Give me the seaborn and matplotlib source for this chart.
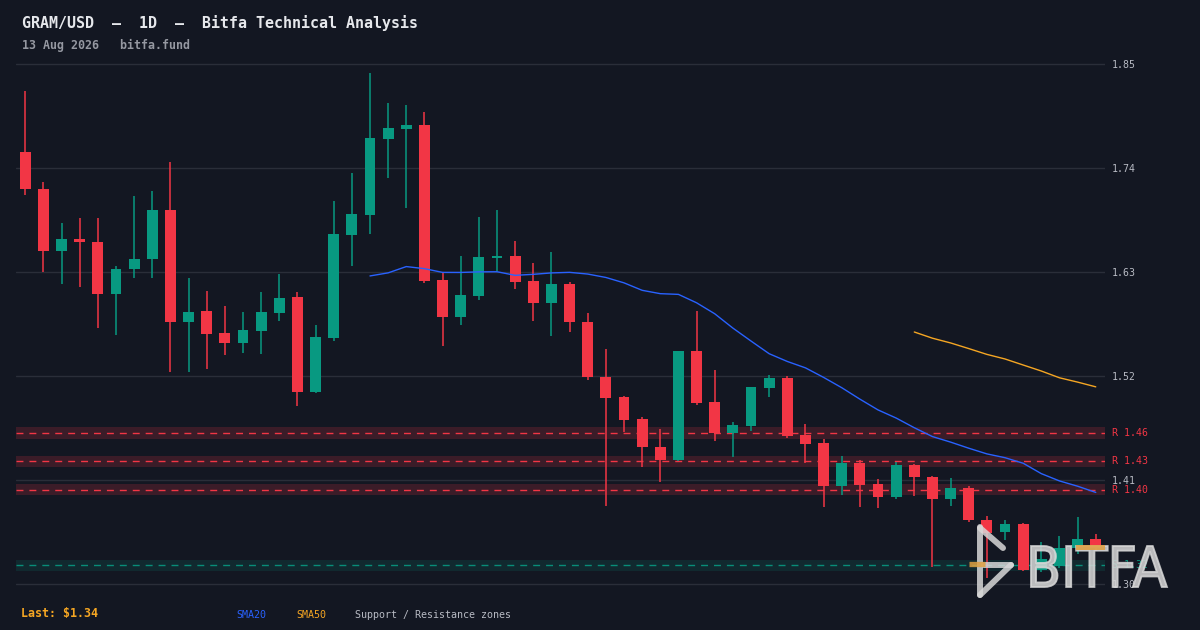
import numpy as np
import pandas as pd
import matplotlib
matplotlib.use("Agg")
import matplotlib.pyplot as plt
import seaborn as sns
from matplotlib.textpath import TextPath
from matplotlib.patches import PathPatch, Rectangle
from matplotlib.font_manager import FontProperties
from matplotlib.transforms import Affine2D
from matplotlib.lines import Line2D

# ---------------- data ----------------
opens = [1.757, 1.718, 1.653, 1.665, 1.662, 1.607, 1.633, 1.644, 1.696, 1.577,
         1.589, 1.566, 1.555, 1.568, 1.587, 1.604, 1.503, 1.561, 1.669, 1.691,
         1.771, 1.782, 1.786, 1.622, 1.583, 1.605, 1.645, 1.647, 1.621, 1.598,
         1.618, 1.577, 1.519, 1.498, 1.475, 1.445, 1.432, 1.547, 1.493, 1.460,
         1.467, 1.508, 1.518, 1.458, 1.449, 1.404, 1.428, 1.406, 1.392, 1.426,
         1.414, 1.390, 1.402, 1.368, 1.355, 1.364, 1.315, 1.319, 1.338, 1.348]
highs = [1.822, 1.725, 1.682, 1.687, 1.687, 1.637, 1.711, 1.716, 1.747, 1.624,
         1.610, 1.594, 1.588, 1.609, 1.628, 1.609, 1.574, 1.705, 1.735, 1.841,
         1.809, 1.807, 1.800, 1.630, 1.647, 1.689, 1.696, 1.663, 1.640, 1.652,
         1.620, 1.587, 1.549, 1.499, 1.477, 1.464, 1.547, 1.589, 1.527, 1.472,
         1.509, 1.521, 1.520, 1.470, 1.454, 1.436, 1.431, 1.411, 1.429, 1.427,
         1.415, 1.412, 1.404, 1.372, 1.368, 1.365, 1.345, 1.351, 1.371, 1.353]
lows = [1.712, 1.630, 1.618, 1.614, 1.571, 1.564, 1.624, 1.624, 1.525, 1.525,
        1.528, 1.543, 1.545, 1.544, 1.578, 1.489, 1.502, 1.557, 1.637, 1.671,
        1.730, 1.698, 1.619, 1.552, 1.574, 1.601, 1.631, 1.612, 1.578, 1.563,
        1.567, 1.516, 1.383, 1.461, 1.424, 1.408, 1.430, 1.490, 1.452, 1.435,
        1.462, 1.498, 1.455, 1.428, 1.382, 1.394, 1.382, 1.381, 1.390, 1.393,
        1.318, 1.383, 1.366, 1.307, 1.347, 1.314, 1.313, 1.317, 1.332, 1.335]
closes = [1.718, 1.653, 1.665, 1.662, 1.607, 1.634, 1.644, 1.696, 1.577, 1.588,
          1.565, 1.555, 1.569, 1.588, 1.603, 1.503, 1.562, 1.670, 1.692, 1.772,
          1.783, 1.786, 1.621, 1.583, 1.606, 1.646, 1.647, 1.620, 1.598, 1.618,
          1.577, 1.519, 1.497, 1.474, 1.445, 1.432, 1.547, 1.492, 1.460, 1.469,
          1.509, 1.518, 1.457, 1.448, 1.404, 1.428, 1.405, 1.392, 1.426, 1.413,
          1.390, 1.402, 1.368, 1.354, 1.364, 1.315, 1.327, 1.338, 1.348, 1.338]

resistance_levels = [1.46, 1.43, 1.40]
support_levels = [1.32]
zone_half_width = 0.006
y_ticks = [1.30, 1.41, 1.52, 1.63, 1.74, 1.85]

title_text = "GRAM/USD  \u2014  1D  \u2014  Bitfa Technical Analysis"
subtitle_text = "13 Aug 2026   bitfa.fund"
last_text = "Last: $1.34"

# ---------------- style ----------------
BG = "#131722"
GRID = "#2a2e39"
UP = "#089981"
DOWN = "#f23645"
C_SMA20 = "#2962ff"
C_SMA50 = "#f5a623"
TXT = "#b8bbc4"

sns.set_theme(style="dark", rc={"axes.facecolor": BG, "figure.facecolor": BG,
                                "savefig.facecolor": BG})
plt.rcParams["font.family"] = ["DejaVu Sans Mono", "DejaVu Sans"]

df = pd.DataFrame({"idx": np.arange(len(closes)), "open": opens, "high": highs,
                   "low": lows, "close": closes})
df["sma20"] = df["close"].rolling(20).mean()
df["sma50"] = df["close"].rolling(50).mean()

W, H = 1200, 630
fig = plt.figure(figsize=(12, 6.3), dpi=100)
ax = fig.add_axes([16 / W, 38 / H, 1089 / W, 536 / H])
ax.set_facecolor(BG)

# zones
for lvl in resistance_levels:
    ax.axhspan(lvl - zone_half_width, lvl + zone_half_width, color=DOWN, alpha=0.18, lw=0, zorder=0.5)
    ax.axhline(lvl, color=DOWN, lw=1.0, ls=(0, (5, 4.3)), alpha=1.0, zorder=1.5)
for lvl in support_levels:
    ax.axhspan(lvl - zone_half_width, lvl + zone_half_width, color=UP, alpha=0.14, lw=0, zorder=0.5)
    ax.axhline(lvl, color=UP, lw=1.0, ls=(0, (5, 4.3)), alpha=0.9, zorder=1.5)

# candles
up = df["close"] >= df["open"]
cols = np.where(up, UP, DOWN)
ax.vlines(df["idx"], df["low"], df["high"], colors=cols, lw=1.1, zorder=2)
body_lo = np.minimum(df["open"], df["close"])
body_h = np.maximum(np.abs(df["close"] - df["open"]), 0.0015)
ax.bar(df["idx"], body_h, bottom=body_lo, width=0.6, color=cols, lw=0, zorder=3)

# moving averages
sns.lineplot(data=df, x="idx", y="sma20", color=C_SMA20, lw=1.0, ax=ax, zorder=4, legend=False)
sns.lineplot(data=df, x="idx", y="sma50", color=C_SMA50, lw=1.0, ax=ax, zorder=4, legend=False)

# axes
ax.set_xlim(-0.51, 59.51)
ax.set_ylim(1.29186, 1.85878)
ax.set_yticks(y_ticks)
ax.set_yticklabels([f"{t:.2f}" for t in y_ticks])
ax.yaxis.tick_right()
ax.tick_params(axis="y", length=0, pad=5, labelcolor=TXT, labelsize=7.1)
ax.set_xticks([])
ax.set_xlabel("")
ax.set_ylabel("")
ax.grid(axis="y", color=GRID, lw=1.0)
ax.grid(axis="x", visible=False)
for s in ax.spines.values():
    s.set_visible(False)

ytr = ax.get_yaxis_transform()
for lvl in resistance_levels:
    ax.annotate(f"R {lvl:.2f}", xy=(1, lvl), xycoords=ytr, xytext=(5, 0),
                textcoords="offset points", ha="left", va="center", color=DOWN,
                fontsize=7.1, annotation_clip=False)
for lvl in support_levels:
    ax.annotate(f"S {lvl:.2f}", xy=(1, lvl), xycoords=ytr, xytext=(5, 0),
                textcoords="offset points", ha="left", va="center", color=UP,
                fontsize=7.1, annotation_clip=False)

# header / footer text
fig.text(22 / W, 1 - 23 / H, title_text, color="#e6e8ec", fontsize=10.8,
         fontweight="bold", ha="left", va="center")
fig.text(22 / W, 1 - 45 / H, subtitle_text, color="#9598a1", fontsize=8.4,
         fontweight="bold", ha="left", va="center")
fig.text(21 / W, 1 - 613 / H, last_text, color=C_SMA50, fontsize=8.4,
         fontweight="bold", ha="left", va="center")
fig.text(236 / W, 1 - 615 / H, "SMA20", color=C_SMA20, fontsize=7.2, ha="left", va="center")
fig.text(296 / W, 1 - 615 / H, "SMA50", color=C_SMA50, fontsize=7.2, ha="left", va="center")
fig.text(355 / W, 1 - 615 / H, "Support / Resistance zones", color=TXT, fontsize=7.2,
         ha="left", va="center")

# watermark logo (figure pixel coords -> figure fraction)
px2fig = Affine2D().scale(1 / W, 1 / H) + fig.transFigure
LOGO = "#d8d8d8"
fp = FontProperties(family="DejaVu Sans", weight="normal")
tp = TextPath((0, 0), "BITFA", size=100, prop=fp)
bb = tp.get_extents()
sx = (1167 - 1031) / bb.width
sy = (587 - 546) / bb.height
tr = Affine2D().translate(-bb.x0, -bb.y0).scale(sx, sy).translate(1031, H - 587)
fig.add_artist(PathPatch(tp, transform=tr + px2fig, facecolor=LOGO, edgecolor=LOGO,
                         lw=1.3, alpha=0.85, zorder=10))
fig.add_artist(Rectangle((1076, H - 550), 29, 5, transform=px2fig, facecolor="#e0a040",
                         edgecolor="none", alpha=0.85, zorder=11))
icon = [([980, 980], [527, 595]),
        ([980, 1003], [528, 548]),
        ([1011, 980], [565, 595]),
        ([984, 1011], [565, 565])]
for xs, ys in icon:
    fig.add_artist(Line2D(xs, [H - v for v in ys], transform=px2fig, color=LOGO,
                          lw=4.3, alpha=0.85, solid_capstyle="round", zorder=10))
fig.add_artist(Line2D([969, 985], [H - 563.5, H - 563.5], transform=px2fig, color="#e0a040",
                      lw=3.8, alpha=0.85, solid_capstyle="butt", zorder=11))

fig.savefig("out.png", dpi=100, facecolor=BG)
